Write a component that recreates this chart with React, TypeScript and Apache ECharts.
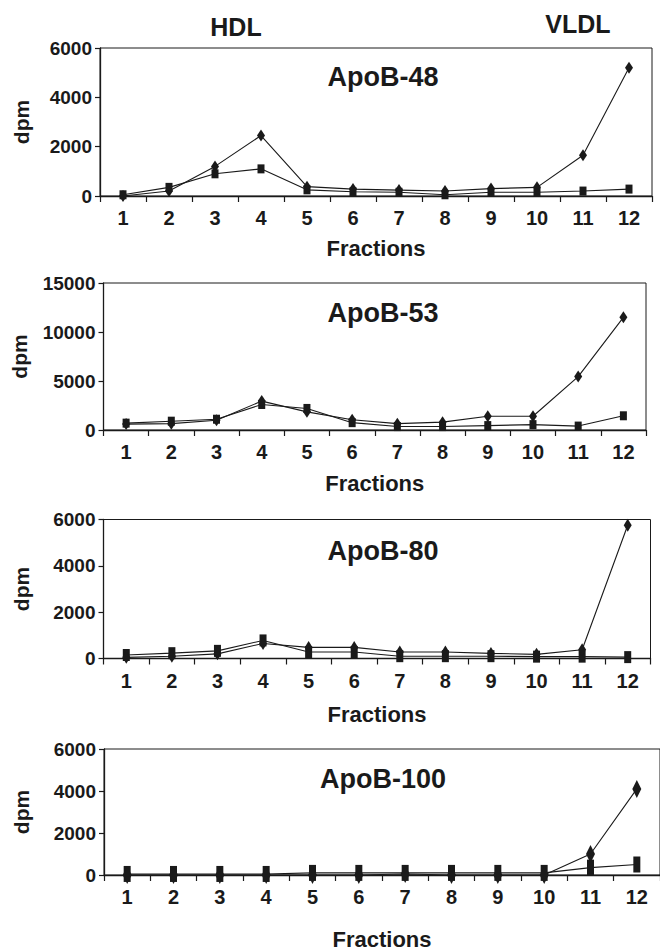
import React, { useEffect, useRef } from "react";
import * as echarts from "echarts";

const categories = ["1", "2", "3", "4", "5", "6", "7", "8", "9", "10", "11", "12"];

const apoB48Diamond = [0, 200, 1200, 2450, 380, 280, 240, 200, 300, 350, 1650, 5200];
const apoB48Square = [50, 350, 900, 1100, 250, 170, 150, 50, 150, 150, 200, 280];

const apoB53Diamond = [600, 650, 1000, 2950, 1850, 1050, 650, 800, 1400, 1400, 5450, 11500];
const apoB53Square = [700, 900, 1100, 2600, 2200, 750, 350, 350, 450, 550, 400, 1450];

const apoB80Diamond = [50, 100, 200, 650, 480, 480, 280, 280, 220, 180, 380, 5750];
const apoB80Square = [150, 230, 330, 780, 280, 280, 100, 100, 100, 80, 80, 60];

const apoB100Diamond = [0, 0, 0, 0, 0, 0, 50, 0, 0, 0, 1000, 4100];
const apoB100Square = [50, 50, 50, 50, 100, 100, 100, 100, 100, 100, 350, 500];

const panelTitles = ["ApoB-48", "ApoB-53", "ApoB-80", "ApoB-100"];
const yMax = [6000, 15000, 6000, 6000];
const yStep = [2000, 5000, 2000, 2000];

const FONT = "'Liberation Sans', Arial, Helvetica, sans-serif";
const INK = "#1a1a1a";

export default function App() {
  const ref = useRef<HTMLDivElement>(null);

  useEffect(() => {
    if (!ref.current) return;
    const chart = echarts.init(ref.current, null, { renderer: "svg" });

    const grids = [
      { left: 100, top: 48, width: 552, height: 148 },
      { left: 103.5, top: 283, width: 542.5, height: 147 },
      { left: 103.5, top: 519.5, width: 547, height: 139 },
      { left: 104, top: 749, width: 559, height: 135 },
    ];
    const xNameGap = [41, 42, 45, 53];
    const yNameGap = [68, 74, 72, 72];
    const diamondSize = [[8, 12], [8, 12], [8, 13], [9, 18]];
    const squareSize = [[7, 9], [7, 9], [7, 12], [7, 16]];
    const dataSets = [
      [apoB48Diamond, apoB48Square],
      [apoB53Diamond, apoB53Square],
      [apoB80Diamond, apoB80Square],
      [apoB100Diamond, apoB100Square],
    ];

    const xAxes = grids.map((_, i) => ({
      type: "category",
      gridIndex: i,
      data: categories,
      boundaryGap: true,
      name: "Fractions",
      nameLocation: "middle",
      nameGap: xNameGap[i],
      nameTextStyle: { fontFamily: FONT, fontWeight: "bold", fontSize: 22, color: INK },
      axisLine: { show: true, lineStyle: { color: INK, width: 1.3 } },
      axisTick: { show: true, inside: false, length: 6, alignWithLabel: false, lineStyle: { color: INK, width: 1.2 } },
      axisLabel: { fontFamily: FONT, fontWeight: "bold", fontSize: 20, color: INK, margin: 12, interval: 0 },
      splitLine: { show: false },
    }));

    const yAxes = grids.map((_, i) => ({
      type: "value",
      gridIndex: i,
      min: 0,
      max: yMax[i],
      interval: yStep[i],
      name: "dpm",
      nameLocation: "middle",
      nameRotate: 90,
      nameGap: yNameGap[i],
      nameTextStyle: { fontFamily: FONT, fontWeight: "bold", fontSize: 21, color: INK },
      axisLine: { show: true, lineStyle: { color: INK, width: 1.3 } },
      axisTick: { show: true, inside: false, length: 5, lineStyle: { color: INK, width: 1.2 } },
      axisLabel: {
        fontFamily: FONT,
        fontWeight: "bold",
        fontSize: 19,
        color: INK,
        margin: 8,
        formatter: (v: number) => String(v),
      },
      splitLine: { show: false },
    }));

    const series: any[] = [];
    dataSets.forEach((pair, i) => {
      series.push({
        type: "line",
        xAxisIndex: i,
        yAxisIndex: i,
        data: pair[1],
        symbol: "rect",
        symbolSize: squareSize[i],
        showAllSymbol: true,
        clip: false,
        lineStyle: { color: INK, width: 1.1 },
        itemStyle: { color: INK },
        z: 2,
      });
      series.push({
        type: "line",
        xAxisIndex: i,
        yAxisIndex: i,
        data: pair[0],
        symbol: "diamond",
        symbolSize: diamondSize[i],
        showAllSymbol: true,
        clip: false,
        lineStyle: { color: INK, width: 1.1 },
        itemStyle: { color: INK },
        z: 3,
      });
    });

    const titleY = [77, 313, 551, 779];
    const graphic: any[] = [
      {
        type: "text",
        x: 236,
        y: 27,
        style: { text: "HDL", font: `bold 25px ${FONT}`, fill: INK, textAlign: "center", textVerticalAlign: "middle" },
      },
      {
        type: "text",
        x: 578,
        y: 24,
        style: { text: "VLDL", font: `bold 25px ${FONT}`, fill: INK, textAlign: "center", textVerticalAlign: "middle" },
      },
      ...panelTitles.map((t, i) => ({
        type: "text",
        x: 383,
        y: titleY[i],
        style: { text: t, font: `bold 27px ${FONT}`, fill: INK, textAlign: "center", textVerticalAlign: "middle" },
      })),
    ];

    chart.setOption({
      animation: false,
      backgroundColor: "#ffffff",
      grid: grids.map((g) => ({ ...g, show: true, borderColor: INK, borderWidth: 1, backgroundColor: "transparent" })),
      xAxis: xAxes,
      yAxis: yAxes,
      series,
      graphic,
    });

    return () => chart.dispose();
  }, []);

  return (
    <div
      ref={ref}
      style={{ position: "absolute", left: 0, top: 0, width: 660, height: 951, background: "#fff" }}
    />
  );
}
